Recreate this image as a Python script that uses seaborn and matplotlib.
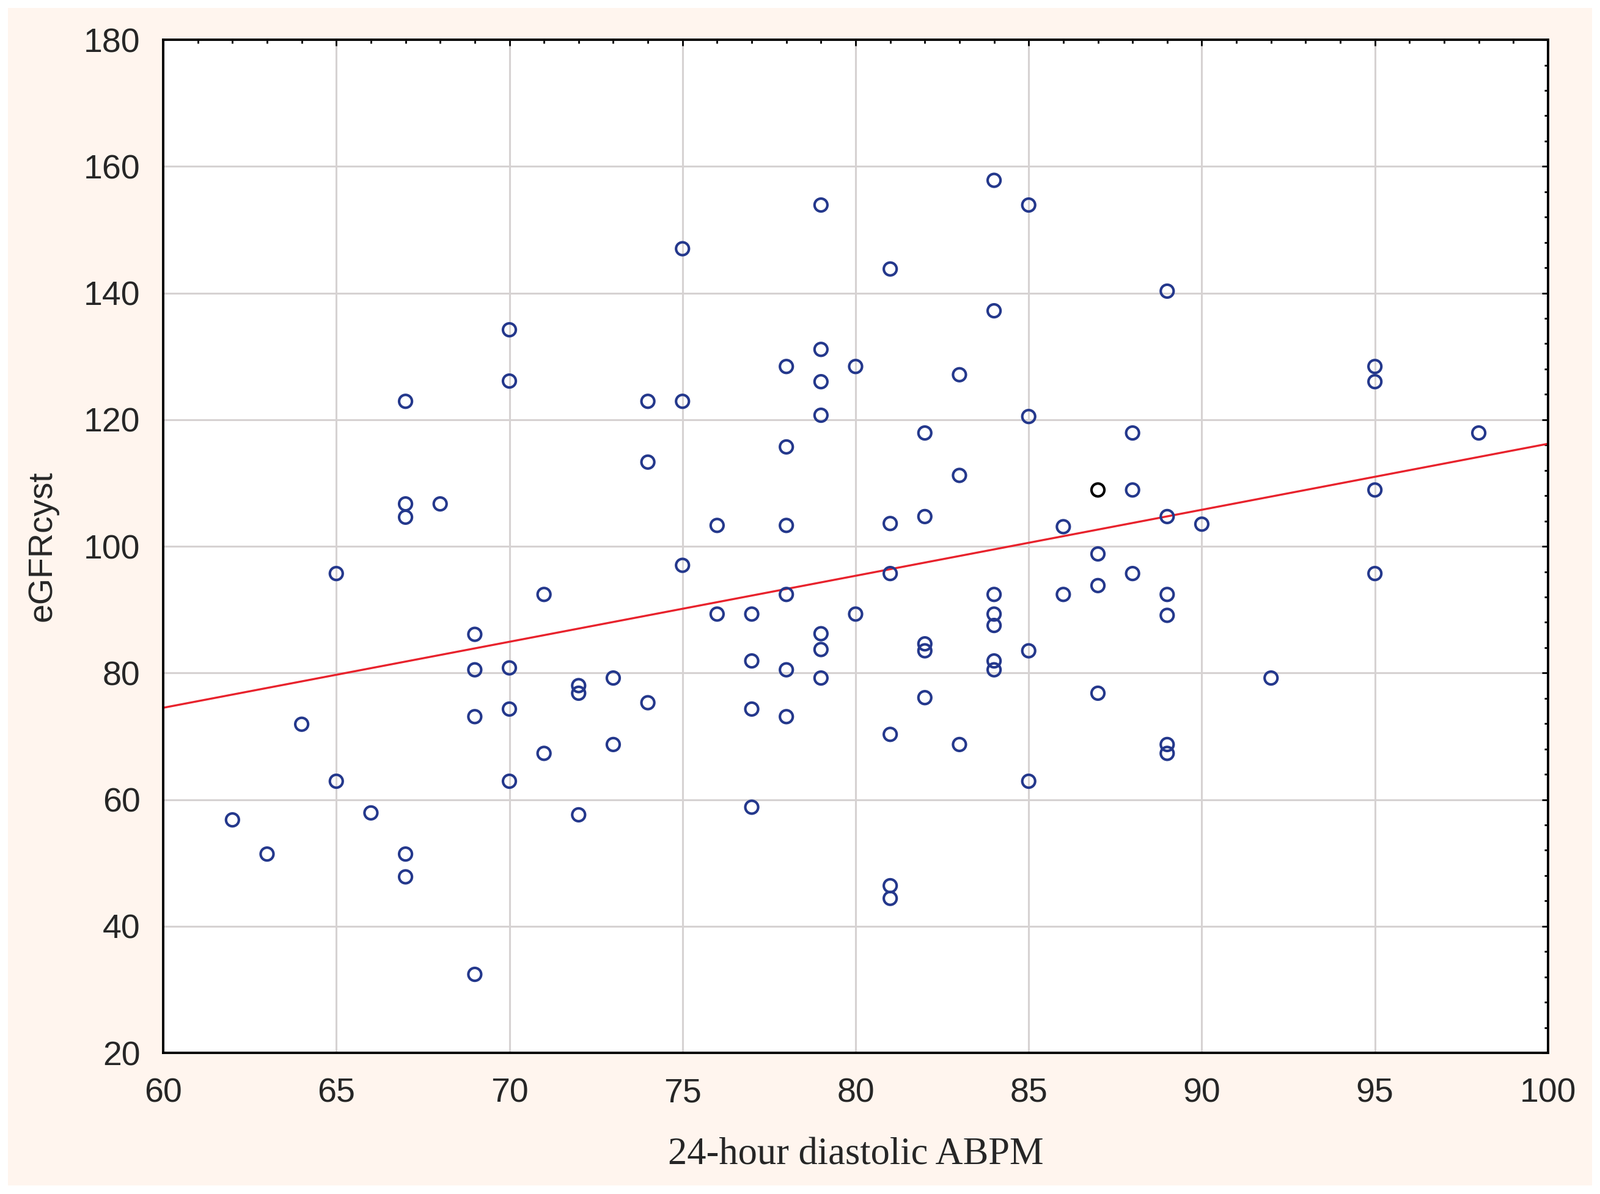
import numpy as np
import pandas as pd
import matplotlib
matplotlib.use('Agg')
import matplotlib.pyplot as plt
import seaborn as sns
from matplotlib.ticker import MultipleLocator
from matplotlib.patches import Rectangle

# values (x = 24-hour diastolic ABPM, y = eGFRcyst)
abpm = [62, 63, 64, 65, 65, 66,
        67, 67, 67, 67, 67, 68,
        69, 69, 69, 69,
        70, 70, 70, 70, 70,
        71, 71, 72, 72, 72, 73, 73,
        74, 74, 74, 75, 75, 75, 76, 76,
        77, 77, 77, 77,
        78, 78, 78, 78, 78, 78,
        79, 79, 79, 79, 79, 79, 79,
        80, 80,
        81, 81, 81, 81, 81, 81,
        82, 82, 82, 82, 82,
        83, 83, 83,
        84, 84, 84, 84, 84, 84, 84,
        85, 85, 85, 85, 86, 86,
        87, 87, 87, 87,
        88, 88, 88,
        89, 89, 89, 89, 89, 89,
        90, 92, 95, 95, 95, 95, 98]
egfr = [56.8, 51.4, 71.9, 95.7, 62.9, 57.9,
        122.9, 106.7, 104.6, 51.4, 47.8, 106.7,
        86.1, 80.5, 73.1, 32.4,
        134.2, 126.1, 80.8, 74.3, 62.9,
        92.4, 67.3, 78.0, 76.8, 57.6, 79.2, 68.7,
        122.9, 113.3, 75.3, 147.0, 122.9, 97.0, 103.3, 89.3,
        89.3, 81.9, 74.3, 58.8,
        128.4, 115.7, 103.3, 92.4, 80.5, 73.1,
        153.9, 131.1, 126.0, 120.7, 86.2, 83.7, 79.2,
        128.4, 89.3,
        143.8, 103.6, 95.7, 70.3, 46.4, 44.4,
        117.9, 104.7, 84.6, 83.5, 76.1,
        127.1, 111.2, 68.7,
        157.8, 137.2, 92.4, 89.3, 87.5, 81.9, 80.5,
        153.9, 120.5, 83.5, 62.9, 103.1, 92.4,
        108.9, 98.8, 93.8, 76.8,
        117.9, 108.9, 95.7,
        140.3, 104.7, 92.4, 89.1, 68.7, 67.3,
        103.5, 79.2, 128.4, 126.0, 108.9, 95.7, 117.9]
# the one point drawn in black
black_idx = [82]

xticks = [60, 65, 70, 75, 80, 85, 90, 95, 100]
yticks = [20, 40, 60, 80, 100, 120, 140, 160, 180]

df = pd.DataFrame({'abpm': abpm, 'egfr': egfr})
df['black'] = False
df.loc[black_idx, 'black'] = True

sns.set_style('white')
plt.rcParams['font.family'] = ['Liberation Sans', 'DejaVu Sans']

fig = plt.figure(figsize=(26.18, 19.54), dpi=100, facecolor='white')
fig.patches.append(Rectangle((0.005, 0.0072), 0.99, 0.986, transform=fig.transFigure,
                             facecolor='#fff5ee', edgecolor='none', zorder=-10))
ax = fig.add_axes([0.102, 0.1182, 0.8655, 0.8485])
ax.set_facecolor('white')
ax.set_xlim(60, 100)
ax.set_ylim(20, 180)

sns.regplot(data=df, x='abpm', y='egfr', scatter=False, ci=None, truncate=False,
            line_kws=dict(color='#e8222c', lw=2.4), ax=ax)
sns.scatterplot(data=df[~df['black']], x='abpm', y='egfr', marker='o', s=230,
                facecolor='none', edgecolor='#24388c', linewidth=3.0, ax=ax, zorder=3)
sns.scatterplot(data=df[df['black']], x='abpm', y='egfr', marker='o', s=230,
                facecolor='none', edgecolor='black', linewidth=3.0, ax=ax, zorder=3)

ax.set_xlim(60, 100)
ax.set_ylim(20, 180)
ax.set_xticks(xticks)
ax.set_yticks(yticks)
ax.xaxis.set_minor_locator(MultipleLocator(1))
ax.yaxis.set_minor_locator(MultipleLocator(4))
ax.grid(True, which='major', color='#d6d2d2', lw=2.2)
ax.set_axisbelow(True)
for s in ax.spines.values():
    s.set_color('black')
    s.set_linewidth(2.8)
    s.set_zorder(4)
ax.tick_params(which='both', direction='in', top=True, right=True, color='black', width=2)
ax.tick_params(which='major', length=7)
ax.tick_params(which='minor', length=4)
ax.tick_params(axis='x', which='major', labelsize=40, pad=29)
ax.tick_params(axis='y', which='major', labelsize=40, pad=27)

ax.set_xlabel('24-hour diastolic ABPM', family=['Liberation Serif'], fontsize=45)
ax.set_ylabel('eGFRcyst', fontsize=40)
ax.xaxis.set_label_coords(0.5, -0.101)
ax.yaxis.set_label_coords(-0.087, 0.5)
ax.xaxis.label.set_va('center')
ax.yaxis.label.set_va('center')

fig.savefig('out.png', dpi=100, facecolor=fig.get_facecolor())
